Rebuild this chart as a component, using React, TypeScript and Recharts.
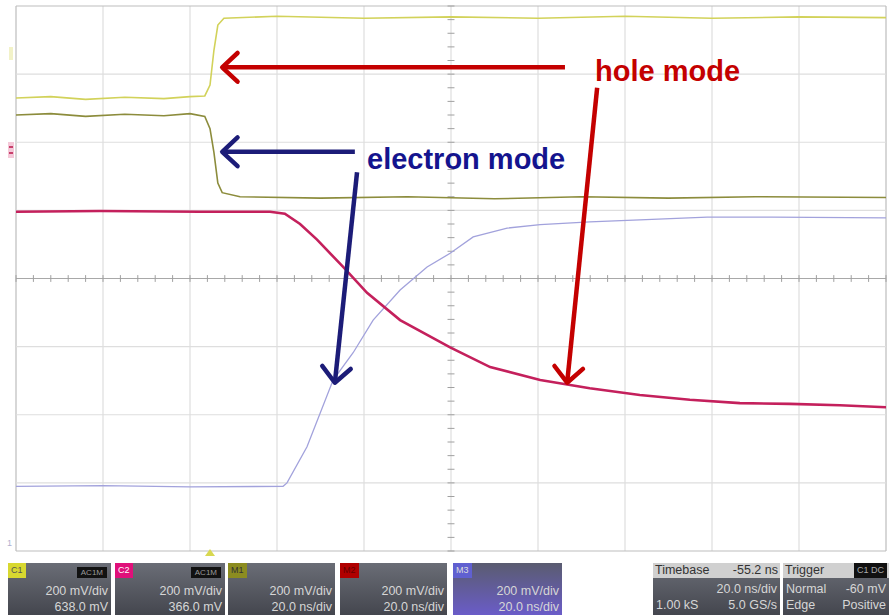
import { LineChart, Line, XAxis, YAxis, ReferenceLine } from 'recharts';

// time in ns (20 ns/div), level in screen divisions from the bottom (8 div)
const divTimes = [0, 20, 40, 60, 80, 100, 120, 140, 160, 180, 200];
const divLevels = [0, 1, 2, 3, 4, 5, 6, 7, 8];

// gate voltage, hole mode (light yellow)
const holeGate = [
  { t: 0, v: 6.65 }, { t: 8, v: 6.67 }, { t: 16, v: 6.63 }, { t: 25, v: 6.66 },
  { t: 34, v: 6.64 }, { t: 40, v: 6.67 }, { t: 43.4, v: 6.68 }, { t: 44.6, v: 6.84 },
  { t: 45.5, v: 7.35 }, { t: 46.4, v: 7.72 }, { t: 47.8, v: 7.82 }, { t: 60, v: 7.85 },
  { t: 80, v: 7.82 }, { t: 100, v: 7.84 }, { t: 120, v: 7.82 }, { t: 140, v: 7.85 },
  { t: 160, v: 7.82 }, { t: 180, v: 7.84 }, { t: 200, v: 7.83 },
];

// gate voltage, electron mode (dark olive)
const electronGate = [
  { t: 0, v: 6.4 }, { t: 8, v: 6.42 }, { t: 16, v: 6.38 }, { t: 25, v: 6.41 },
  { t: 34, v: 6.39 }, { t: 40, v: 6.42 }, { t: 43.4, v: 6.38 }, { t: 44.6, v: 6.2 },
  { t: 45.5, v: 5.85 }, { t: 46.4, v: 5.4 }, { t: 47.4, v: 5.26 }, { t: 51.5, v: 5.2 },
  { t: 70, v: 5.18 }, { t: 90, v: 5.2 }, { t: 110, v: 5.17 }, { t: 130, v: 5.2 },
  { t: 150, v: 5.18 }, { t: 170, v: 5.2 }, { t: 200, v: 5.19 },
];

// drain current, hole mode (crimson)
const holeCurrent = [
  { t: 0, v: 4.98 }, { t: 19.3, v: 4.99 }, { t: 42.3, v: 4.98 }, { t: 58.4, v: 4.98 },
  { t: 61.8, v: 4.95 }, { t: 65.3, v: 4.8 }, { t: 69.2, v: 4.57 }, { t: 75.2, v: 4.17 },
  { t: 80.7, v: 3.79 }, { t: 88.3, v: 3.39 }, { t: 99.8, v: 2.99 }, { t: 109.0, v: 2.7 },
  { t: 120.5, v: 2.51 }, { t: 131.9, v: 2.39 }, { t: 143.4, v: 2.29 }, { t: 154.9, v: 2.22 },
  { t: 166.4, v: 2.17 }, { t: 177.9, v: 2.16 }, { t: 189.4, v: 2.14 }, { t: 200, v: 2.11 },
];

// drain current, electron mode (lavender)
const electronCurrent = [
  { t: 0, v: 0.95 }, { t: 20, v: 0.96 }, { t: 40, v: 0.94 }, { t: 61.4, v: 0.95 },
  { t: 62.3, v: 1.0 }, { t: 66.9, v: 1.53 }, { t: 72.9, v: 2.51 }, { t: 77.5, v: 2.91 },
  { t: 82.1, v: 3.39 }, { t: 88.3, v: 3.83 }, { t: 94.5, v: 4.17 }, { t: 99.8, v: 4.37 },
  { t: 105.1, v: 4.61 }, { t: 112.9, v: 4.74 }, { t: 120.5, v: 4.79 }, { t: 131.9, v: 4.83 },
  { t: 143.4, v: 4.86 }, { t: 158.9, v: 4.9 }, { t: 174.0, v: 4.9 }, { t: 200, v: 4.89 },
];

// annotation arrows: [from, to] in data units
const redArrows = [
  [{ x: 126.2, y: 7.1 }, { x: 47.4, y: 7.1 }],
  [{ x: 133.6, y: 6.8 }, { x: 126.7, y: 2.47 }],
];
const navyArrows = [
  [{ x: 77.9, y: 5.86 }, { x: 47.4, y: 5.86 }],
  [{ x: 78.4, y: 5.56 }, { x: 73.3, y: 2.47 }],
];

const minorTimes = Array.from({ length: 51 }, (_, i) => i * 4);
const minorLevels = Array.from({ length: 41 }, (_, i) => i * 0.2);

const arrowShape = (color: string) => (p: any) => {
  const { x1, y1, x2, y2 } = p;
  const a = Math.atan2(y2 - y1, x2 - x1);
  const L = 21;
  const w = 0.75;
  const ax = x2 - L * Math.cos(a - w);
  const ay = y2 - L * Math.sin(a - w);
  const bx = x2 - L * Math.cos(a + w);
  const by = y2 - L * Math.sin(a + w);
  return (
    <g>
      <line x1={x1} y1={y1} x2={x2} y2={y2} stroke={color} strokeWidth={4.5} />
      <polyline
        points={`${ax},${ay} ${x2},${y2} ${bx},${by}`}
        fill="none"
        stroke={color}
        strokeWidth={4.5}
        strokeLinecap="round"
        strokeLinejoin="round"
      />
    </g>
  );
};

const boxBase: React.CSSProperties = {
  position: 'absolute',
  top: 563,
  height: 52,
  background: 'linear-gradient(#6a6d76, #44464e)',
  color: '#d6d6d6',
  fontFamily: 'Arial, "Liberation Sans", sans-serif',
  fontSize: 12.5,
  lineHeight: '16px',
  textAlign: 'right',
  boxSizing: 'border-box',
  padding: '0 3px',
};

function ChannelBox({ left, width, tag, tagColor, tagText, badge, l1, l2, grad }: any) {
  return (
    <div style={{ ...boxBase, left, width, background: grad || boxBase.background }}>
      <div style={{ height: 16, position: 'relative' }}>
        <span style={{ position: 'absolute', left: -3, top: 0, background: tagColor, color: tagText, fontSize: 9, padding: '0 3px', lineHeight: '15px' }}>{tag}</span>
        {badge && (
          <span style={{ position: 'absolute', right: 1, top: 4, background: '#111', color: '#9a9a9a', fontSize: 8, padding: '0 4px', lineHeight: '11px' }}>{badge}</span>
        )}
      </div>
      <div style={{ marginTop: 4 }}>{l1}</div>
      <div>{l2}</div>
    </div>
  );
}

const noteFont = 'bold 29px Arial, "Liberation Sans", sans-serif';

export default function App() {
  return (
    <div style={{ position: 'absolute', left: 0, top: 0, width: 889, height: 615, background: '#fff', overflow: 'hidden' }}>
      <LineChart width={889} height={556} margin={{ top: 6, right: 3, bottom: 5, left: 16 }}>
        <XAxis type="number" dataKey="t" domain={[0, 200]} hide allowDataOverflow />
        <YAxis type="number" dataKey="v" domain={[0, 8]} hide allowDataOverflow />
        {divTimes.map((t) => (
          <ReferenceLine key={`gx${t}`} x={t} stroke={t === 0 || t === 200 ? '#bdbdbd' : '#dedede'} strokeWidth={1.2} />
        ))}
        {divLevels.map((l) => (
          <ReferenceLine key={`gy${l}`} y={l} stroke={l === 0 || l === 8 ? '#bdbdbd' : l === 4 ? '#a8a8a8' : '#dedede'} strokeWidth={1.2} />
        ))}
        {minorTimes.map((t) => (
          <ReferenceLine key={`mx${t}`} segment={[{ x: t, y: 3.95 }, { x: t, y: 4.05 }]} stroke="#a0a0a0" />
        ))}
        {minorLevels.map((l) => (
          <ReferenceLine key={`my${l}`} segment={[{ x: 99.2, y: l }, { x: 100.8, y: l }]} stroke="#a0a0a0" />
        ))}
        <Line data={holeGate} dataKey="v" type="linear" stroke="#d2d25a" strokeWidth={1.6} dot={false} isAnimationActive={false} />
        <Line data={electronGate} dataKey="v" type="linear" stroke="#8c8c3c" strokeWidth={1.6} dot={false} isAnimationActive={false} />
        <Line data={electronCurrent} dataKey="v" type="linear" stroke="#a2a2dc" strokeWidth={1.3} dot={false} isAnimationActive={false} />
        <Line data={holeCurrent} dataKey="v" type="linear" stroke="#c4205c" strokeWidth={2.6} dot={false} isAnimationActive={false} />
        {redArrows.map((s, i) => (
          <ReferenceLine key={`ra${i}`} segment={s} shape={arrowShape('#c40000')} />
        ))}
        {navyArrows.map((s, i) => (
          <ReferenceLine key={`na${i}`} segment={s} shape={arrowShape('#1c1c78')} />
        ))}
      </LineChart>

      <div style={{ position: 'absolute', left: 595, top: 54.5, lineHeight: '29px', color: '#c40000', font: noteFont, whiteSpace: 'nowrap' }}>hole mode</div>
      <div style={{ position: 'absolute', left: 367, top: 142.5, lineHeight: '29px', color: '#14148e', font: noteFont, whiteSpace: 'nowrap' }}>electron mode</div>

      <div style={{ position: 'absolute', left: 9, top: 47, width: 4, height: 13, background: '#f2f2c8' }} />
      <div style={{ position: 'absolute', left: 8, top: 142, width: 6, height: 16, background: '#f4c8d8' }} />
      <div style={{ position: 'absolute', left: 9, top: 146, width: 4, height: 2, background: '#c8406c' }} />
      <div style={{ position: 'absolute', left: 9, top: 152, width: 4, height: 2, background: '#c8406c' }} />
      <div style={{ position: 'absolute', left: 7, top: 538, color: '#b0b0d0', fontSize: 9, fontFamily: 'Arial' }}>1</div>
      <div style={{ position: 'absolute', left: 205, top: 549, width: 0, height: 0, borderLeft: '5px solid transparent', borderRight: '5px solid transparent', borderBottom: '7px solid #d8d850' }} />

      <ChannelBox left={8} width={103} tag="C1" tagColor="#d8d830" tagText="#555" badge="AC1M" l1="200 mV/div" l2="638.0 mV" />
      <ChannelBox left={115} width={110} tag="C2" tagColor="#e0107a" tagText="#fff" badge="AC1M" l1="200 mV/div" l2="366.0 mV" />
      <ChannelBox left={228} width={107} tag="M1" tagColor="#8c8c20" tagText="#333" l1="200 mV/div" l2="20.0 ns/div" />
      <ChannelBox left={340} width={107} tag="M2" tagColor="#b00000" tagText="#600" l1="200 mV/div" l2="20.0 ns/div" />
      <ChannelBox left={453} width={109} tag="M3" tagColor="#6060d0" tagText="#ddd" l1="200 mV/div" l2="20.0 ns/div" grad="linear-gradient(#5a5c70, #6a5cc8)" />

      <div style={{ ...boxBase, left: 653, width: 127, textAlign: 'left' }}>
        <div style={{ background: '#d0d0d0', color: '#333', display: 'flex', justifyContent: 'space-between', padding: '0 2px', lineHeight: '15px', margin: '0 -3px' }}>
          <span>Timebase</span><span>-55.2 ns</span>
        </div>
        <div style={{ textAlign: 'right', marginTop: 3 }}>20.0 ns/div</div>
        <div style={{ display: 'flex', justifyContent: 'space-between' }}><span>1.00 kS</span><span>5.0 GS/s</span></div>
      </div>
      <div style={{ ...boxBase, left: 783, width: 110, textAlign: 'left' }}>
        <div style={{ background: '#d0d0d0', color: '#333', display: 'flex', justifyContent: 'space-between', padding: '0 2px', lineHeight: '15px', margin: '0 -3px' }}>
          <span>Trigger</span><span style={{ background: '#111', color: '#aaa', fontSize: 9, padding: '0 3px', marginRight: 4 }}>C1 DC</span>
        </div>
        <div style={{ display: 'flex', justifyContent: 'space-between', marginTop: 3, paddingRight: 4 }}><span>Normal</span><span>-60 mV</span></div>
        <div style={{ display: 'flex', justifyContent: 'space-between', paddingRight: 4 }}><span>Edge</span><span>Positive</span></div>
      </div>
    </div>
  );
}
